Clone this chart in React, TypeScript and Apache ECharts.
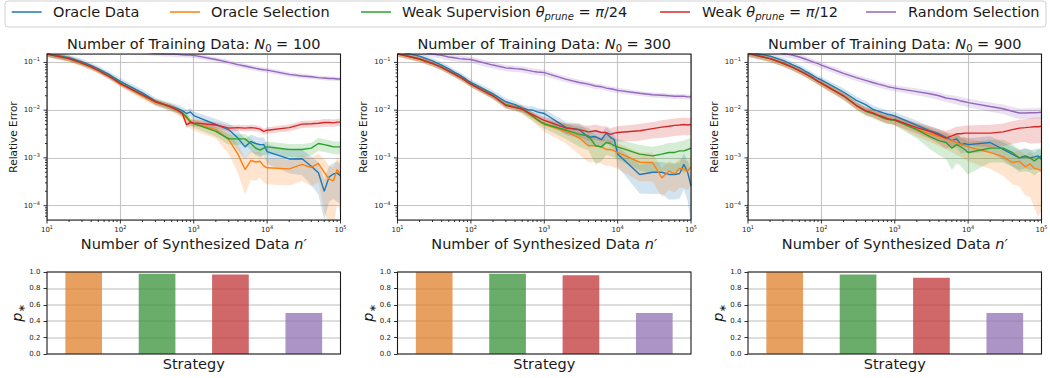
import React, { useEffect, useRef } from "react";
import * as echarts from "echarts";

// ---------------- data ----------------
const nSynth = [10, 20, 30, 40, 50, 60, 70, 80, 90, 100, 200, 300, 400, 500, 600, 700, 800, 900, 1000, 2000, 3000, 4000, 5000, 6000, 7000, 8000, 9000, 10000, 20000, 30000, 40000, 50000, 60000, 70000, 80000, 90000, 100000];

const methodNames = ["Oracle Data", "Oracle Selection", "Weak Supervision θprune = π/24", "Weak θprune = π/12", "Random Selection"];
const legendLabels = ["Oracle Data", "Oracle Selection", "Weak Supervision {i|θ}{sub|prune} = {i|π}/24", "Weak {i|θ}{sub|prune} = {i|π}/12", "Random Selection"];
const methodColors = ["#1f77b4", "#ff7f0e", "#2ca02c", "#d62728", "#9467bd"];
const trainingSizes = [100, 300, 900];

// N0 = 100
const oracleData100 = [0.152, 0.125, 0.102, 0.086, 0.073, 0.063, 0.056, 0.049, 0.044, 0.040, 0.023, 0.0155, 0.0130, 0.0118, 0.0108, 0.0098, 0.0085, 0.0092, 0.0077, 0.0050, 0.0039, 0.0026, 0.0017, 0.0022, 0.0020, 0.0019, 0.0019, 0.00135, 0.00095, 0.00096, 0.00067, 0.00049, 0.00020, 0.00040, 0.00046, 0.00048, 0.00042];
const oracleSel100 = [0.150, 0.118, 0.095, 0.080, 0.068, 0.058, 0.051, 0.045, 0.040, 0.036, 0.020, 0.0145, 0.0128, 0.0112, 0.0098, 0.0085, 0.0068, 0.0055, 0.0052, 0.0039, 0.0024, 0.0012, 0.00057, 0.00088, 0.00082, 0.00085, 0.00068, 0.00062, 0.00059, 0.00073, 0.00063, 0.00077, 0.00050, 0.00036, 0.00033, 0.00057, 0.00045];
const weak24_100 = [0.150, 0.120, 0.097, 0.081, 0.069, 0.059, 0.052, 0.046, 0.041, 0.037, 0.021, 0.0150, 0.0130, 0.0115, 0.0102, 0.0088, 0.0072, 0.0058, 0.0052, 0.0036, 0.0025, 0.0025, 0.0025, 0.0020, 0.0016, 0.00145, 0.0016, 0.0017, 0.0015, 0.0015, 0.0016, 0.0020, 0.0019, 0.0018, 0.0017, 0.0017, 0.0017];
const weak12_100 = [0.150, 0.120, 0.097, 0.081, 0.068, 0.058, 0.051, 0.045, 0.040, 0.036, 0.021, 0.0150, 0.0130, 0.0115, 0.0100, 0.0085, 0.0049, 0.0055, 0.0054, 0.0049, 0.0042, 0.0043, 0.0042, 0.0043, 0.0042, 0.0040, 0.0036, 0.0038, 0.0043, 0.0051, 0.0052, 0.0053, 0.0055, 0.0055, 0.0054, 0.0056, 0.0056];
const random100 = [0.24, 0.22, 0.21, 0.20, 0.195, 0.19, 0.185, 0.18, 0.178, 0.175, 0.165, 0.155, 0.152, 0.150, 0.148, 0.145, 0.143, 0.142, 0.140, 0.115, 0.100, 0.090, 0.084, 0.079, 0.075, 0.072, 0.070, 0.069, 0.056, 0.052, 0.050, 0.048, 0.047, 0.046, 0.046, 0.045, 0.045];

// N0 = 300
const oracleData300 = [0.17, 0.135, 0.108, 0.088, 0.073, 0.062, 0.055, 0.048, 0.042, 0.038, 0.022, 0.0150, 0.0130, 0.0110, 0.0102, 0.0100, 0.0092, 0.0088, 0.0085, 0.0043, 0.0039, 0.0027, 0.0028, 0.0024, 0.0033, 0.0027, 0.0024, 0.0012, 0.00045, 0.00050, 0.00050, 0.00045, 0.00045, 0.00047, 0.00073, 0.00050, 0.00026];
const oracleSel300 = [0.152, 0.118, 0.095, 0.079, 0.066, 0.057, 0.050, 0.044, 0.039, 0.035, 0.020, 0.0130, 0.0115, 0.0105, 0.0085, 0.0072, 0.0062, 0.0055, 0.0050, 0.0036, 0.0026, 0.0018, 0.0018, 0.0017, 0.0015, 0.0015, 0.0014, 0.0013, 0.00081, 0.00080, 0.00038, 0.00053, 0.00047, 0.00060, 0.00058, 0.00053, 0.00065];
const weak24_300 = [0.152, 0.118, 0.095, 0.079, 0.066, 0.057, 0.050, 0.044, 0.039, 0.035, 0.020, 0.0130, 0.0115, 0.0105, 0.0088, 0.0075, 0.0064, 0.0057, 0.0052, 0.0038, 0.0031, 0.0029, 0.0018, 0.0017, 0.0021, 0.0020, 0.0018, 0.0017, 0.0012, 0.0011, 0.0012, 0.0013, 0.0013, 0.0014, 0.0014, 0.0015, 0.0016];
const weak12_300 = [0.152, 0.118, 0.095, 0.079, 0.066, 0.057, 0.050, 0.044, 0.039, 0.035, 0.020, 0.0125, 0.0115, 0.0105, 0.0090, 0.0080, 0.0072, 0.0066, 0.0061, 0.0042, 0.0039, 0.0035, 0.0037, 0.0034, 0.0034, 0.0031, 0.0033, 0.0034, 0.0037, 0.0041, 0.0044, 0.0046, 0.0048, 0.0049, 0.0050, 0.0049, 0.0050];
const random300 = [0.21, 0.17, 0.150, 0.140, 0.130, 0.125, 0.120, 0.118, 0.116, 0.115, 0.088, 0.077, 0.074, 0.072, 0.068, 0.065, 0.063, 0.062, 0.061, 0.044, 0.038, 0.035, 0.032, 0.031, 0.029, 0.028, 0.027, 0.026, 0.0226, 0.021, 0.0205, 0.020, 0.0195, 0.0195, 0.0195, 0.019, 0.019];

// N0 = 900
const oracleData900 = [0.165, 0.135, 0.110, 0.090, 0.078, 0.066, 0.058, 0.051, 0.046, 0.043, 0.024, 0.016, 0.013, 0.0105, 0.0095, 0.0088, 0.0082, 0.0079, 0.0076, 0.0048, 0.0037, 0.0032, 0.0027, 0.0023, 0.0025, 0.0019, 0.0020, 0.0019, 0.0021, 0.0015, 0.0012, 0.0010, 0.0011, 0.0010, 0.00105, 0.0011, 0.00093];
const oracleSel900 = [0.155, 0.120, 0.096, 0.080, 0.067, 0.058, 0.051, 0.045, 0.040, 0.036, 0.020, 0.0125, 0.0098, 0.0088, 0.0078, 0.0068, 0.0065, 0.0063, 0.0063, 0.0040, 0.0032, 0.0028, 0.0025, 0.0023, 0.0021, 0.0019, 0.0018, 0.0017, 0.0013, 0.00105, 0.00080, 0.00085, 0.00065, 0.00075, 0.00060, 0.00058, 0.00053];
const weak24_900 = [0.155, 0.120, 0.096, 0.080, 0.067, 0.058, 0.051, 0.045, 0.040, 0.037, 0.020, 0.0125, 0.0095, 0.0085, 0.0076, 0.0068, 0.0064, 0.0062, 0.0061, 0.0039, 0.0028, 0.0023, 0.0021, 0.0016, 0.0019, 0.0017, 0.0015, 0.0013, 0.0016, 0.0016, 0.0013, 0.0010, 0.00105, 0.0010, 0.00086, 0.0010, 0.0011];
const weak12_900 = [0.155, 0.120, 0.096, 0.080, 0.067, 0.058, 0.051, 0.045, 0.040, 0.037, 0.020, 0.0125, 0.0098, 0.0088, 0.0078, 0.0072, 0.0066, 0.0064, 0.0063, 0.0043, 0.0036, 0.0030, 0.0026, 0.0029, 0.0032, 0.0032, 0.0033, 0.0033, 0.0033, 0.0035, 0.0039, 0.0042, 0.0043, 0.0044, 0.0045, 0.0045, 0.0046];
const random900 = [0.22, 0.18, 0.155, 0.142, 0.130, 0.118, 0.108, 0.100, 0.094, 0.088, 0.059, 0.048, 0.042, 0.038, 0.035, 0.033, 0.031, 0.030, 0.029, 0.0245, 0.022, 0.020, 0.018, 0.0172, 0.0165, 0.0155, 0.0150, 0.0144, 0.0119, 0.0107, 0.0095, 0.0087, 0.0087, 0.0088, 0.0088, 0.0089, 0.0090];

// relative spread (std / mean) of each curve
const spreadOD100 = [0.15, 0.15, 0.15, 0.15, 0.15, 0.15, 0.15, 0.15, 0.16, 0.17, 0.18, 0.18, 0.18, 0.2, 0.2, 0.2, 0.2, 0.2, 0.22, 0.3, 0.35, 0.45, 0.45, 0.4, 0.4, 0.4, 0.4, 0.45, 0.5, 0.55, 0.6, 0.65, 0.75, 0.7, 0.7, 0.75, 0.75];
const spreadOS100 = [0.15, 0.15, 0.15, 0.15, 0.15, 0.15, 0.15, 0.15, 0.15, 0.15, 0.16, 0.16, 0.18, 0.18, 0.2, 0.2, 0.22, 0.25, 0.28, 0.35, 0.5, 0.6, 0.7, 0.6, 0.6, 0.55, 0.55, 0.55, 0.55, 0.55, 0.6, 0.6, 0.85, 0.9, 0.9, 0.8, 0.85];
const spreadW24_100 = [0.12, 0.12, 0.12, 0.12, 0.12, 0.12, 0.12, 0.12, 0.12, 0.12, 0.13, 0.13, 0.13, 0.14, 0.14, 0.15, 0.15, 0.15, 0.18, 0.22, 0.25, 0.25, 0.25, 0.28, 0.3, 0.3, 0.3, 0.3, 0.3, 0.3, 0.3, 0.3, 0.3, 0.3, 0.3, 0.3, 0.3];
const spreadW12_100 = [0.12, 0.12, 0.12, 0.12, 0.12, 0.12, 0.12, 0.12, 0.12, 0.12, 0.12, 0.12, 0.12, 0.12, 0.13, 0.13, 0.15, 0.15, 0.15, 0.15, 0.15, 0.15, 0.15, 0.15, 0.15, 0.15, 0.15, 0.16, 0.16, 0.17, 0.17, 0.18, 0.18, 0.18, 0.18, 0.18, 0.18];
const spreadR100 = [0.12, 0.12, 0.12, 0.12, 0.12, 0.12, 0.12, 0.12, 0.12, 0.12, 0.12, 0.12, 0.12, 0.12, 0.12, 0.12, 0.12, 0.12, 0.12, 0.12, 0.12, 0.12, 0.12, 0.12, 0.12, 0.12, 0.12, 0.12, 0.11, 0.11, 0.1, 0.1, 0.1, 0.1, 0.1, 0.1, 0.1];

const spreadOD300 = [0.15, 0.15, 0.15, 0.15, 0.15, 0.15, 0.15, 0.15, 0.15, 0.15, 0.18, 0.18, 0.18, 0.18, 0.18, 0.2, 0.2, 0.22, 0.25, 0.3, 0.35, 0.35, 0.35, 0.35, 0.35, 0.35, 0.4, 0.45, 0.6, 0.65, 0.65, 0.7, 0.7, 0.7, 0.7, 0.75, 0.85];
const spreadOS300 = [0.15, 0.15, 0.15, 0.15, 0.15, 0.15, 0.15, 0.15, 0.15, 0.15, 0.16, 0.17, 0.18, 0.2, 0.2, 0.2, 0.22, 0.25, 0.3, 0.45, 0.55, 0.55, 0.55, 0.55, 0.55, 0.55, 0.55, 0.55, 0.6, 0.6, 0.6, 0.6, 0.6, 0.6, 0.6, 0.6, 0.6];
const spreadW24_300 = [0.13, 0.13, 0.13, 0.13, 0.13, 0.13, 0.13, 0.13, 0.13, 0.13, 0.14, 0.15, 0.16, 0.18, 0.2, 0.2, 0.2, 0.2, 0.2, 0.35, 0.45, 0.5, 0.6, 0.5, 0.45, 0.45, 0.45, 0.45, 0.55, 0.55, 0.55, 0.6, 0.6, 0.6, 0.65, 0.65, 0.65];
const spreadW12_300 = [0.13, 0.13, 0.13, 0.13, 0.13, 0.13, 0.13, 0.13, 0.13, 0.13, 0.13, 0.14, 0.14, 0.15, 0.15, 0.15, 0.15, 0.15, 0.18, 0.25, 0.3, 0.35, 0.35, 0.35, 0.35, 0.35, 0.35, 0.35, 0.38, 0.38, 0.4, 0.4, 0.4, 0.4, 0.4, 0.4, 0.4];
const spreadR300 = [0.15, 0.15, 0.15, 0.15, 0.15, 0.15, 0.15, 0.15, 0.15, 0.15, 0.15, 0.15, 0.15, 0.15, 0.15, 0.15, 0.15, 0.15, 0.15, 0.14, 0.14, 0.14, 0.13, 0.13, 0.13, 0.13, 0.13, 0.13, 0.12, 0.12, 0.12, 0.12, 0.12, 0.12, 0.12, 0.12, 0.12];

const spreadOD900 = [0.15, 0.15, 0.15, 0.15, 0.15, 0.15, 0.15, 0.15, 0.15, 0.15, 0.2, 0.2, 0.2, 0.2, 0.2, 0.2, 0.2, 0.2, 0.2, 0.25, 0.25, 0.25, 0.25, 0.3, 0.35, 0.35, 0.35, 0.35, 0.35, 0.4, 0.45, 0.45, 0.45, 0.45, 0.45, 0.45, 0.45];
const spreadOS900 = [0.15, 0.15, 0.15, 0.15, 0.15, 0.15, 0.15, 0.15, 0.15, 0.15, 0.18, 0.18, 0.2, 0.2, 0.2, 0.2, 0.2, 0.2, 0.22, 0.3, 0.33, 0.36, 0.4, 0.42, 0.45, 0.45, 0.48, 0.5, 0.55, 0.6, 0.65, 0.7, 0.75, 0.8, 0.85, 0.9, 0.85];
const spreadW24_900 = [0.15, 0.15, 0.15, 0.15, 0.15, 0.15, 0.15, 0.15, 0.15, 0.15, 0.18, 0.18, 0.2, 0.2, 0.2, 0.2, 0.2, 0.2, 0.22, 0.35, 0.45, 0.5, 0.55, 0.65, 0.6, 0.6, 0.65, 0.65, 0.5, 0.5, 0.5, 0.5, 0.5, 0.5, 0.5, 0.5, 0.5];
const spreadW12_900 = [0.15, 0.15, 0.15, 0.15, 0.15, 0.15, 0.15, 0.15, 0.15, 0.15, 0.15, 0.15, 0.17, 0.18, 0.2, 0.2, 0.2, 0.2, 0.22, 0.25, 0.3, 0.35, 0.4, 0.4, 0.42, 0.42, 0.45, 0.45, 0.5, 0.5, 0.5, 0.5, 0.5, 0.55, 0.55, 0.55, 0.55];
const spreadR900 = [0.15, 0.15, 0.15, 0.15, 0.15, 0.15, 0.15, 0.15, 0.15, 0.15, 0.15, 0.15, 0.15, 0.15, 0.15, 0.15, 0.15, 0.15, 0.15, 0.16, 0.17, 0.18, 0.18, 0.19, 0.2, 0.2, 0.2, 0.2, 0.22, 0.22, 0.24, 0.25, 0.25, 0.25, 0.25, 0.25, 0.25];

// bar charts: p* per strategy
const strategies = ["Oracle Selection", "Weak Supervision θprune = π/24", "Weak θprune = π/12", "Random Selection"];
const pStar100 = [1.0, 0.98, 0.97, 0.5];
const pStar300 = [1.0, 0.98, 0.96, 0.5];
const pStar900 = [1.0, 0.97, 0.93, 0.5];
const barColors = ["rgba(224,128,43,0.75)", "rgba(56,144,56,0.75)", "rgba(192,54,56,0.75)", "rgba(146,112,179,0.75)"];

// axis ticks
const xMajorTicks = [10, 100, 1000, 10000, 100000];
const yMajorTicks = [1e-4, 1e-3, 1e-2, 1e-1];
const X_MIN = 10, X_MAX = 100000, Y_MIN = 5e-5, Y_MAX = 0.15;

// ---------------- layout ----------------
const FONT = '"DejaVu Sans", sans-serif';
const PANEL_LEFT = [47, 397.5, 748];
const PANEL_W = 293.5;
const TOP_Y = 54, TOP_H = 166;
const BOT_Y = 272, BOT_H = 82;
const INK = "#1a1a1a";

const panelMeans = [
  [oracleData100, oracleSel100, weak24_100, weak12_100, random100],
  [oracleData300, oracleSel300, weak24_300, weak12_300, random300],
  [oracleData900, oracleSel900, weak24_900, weak12_900, random900],
];
const panelSpreads = [
  [spreadOD100, spreadOS100, spreadW24_100, spreadW12_100, spreadR100],
  [spreadOD300, spreadOS300, spreadW24_300, spreadW12_300, spreadR300],
  [spreadOD900, spreadOS900, spreadW24_900, spreadW12_900, spreadR900],
];
const panelPStar = [pStar100, pStar300, pStar900];

function minorTicks(lo: number, hi: number): number[] {
  const out: number[] = [];
  for (let e = -6; e <= 6; e++) {
    for (let m = 2; m <= 9; m++) {
      const v = m * Math.pow(10, e);
      if (v > lo * 1.0001 && v < hi * 0.9999) out.push(v);
    }
  }
  return out;
}

function hexToRgba(hex: string, a: number) {
  const n = parseInt(hex.slice(1), 16);
  return `rgba(${(n >> 16) & 255},${(n >> 8) & 255},${n & 255},${a})`;
}

const powLabel = (v: number) => {
  const e = Math.log10(v);
  const r = Math.round(e);
  if (Math.abs(e - r) > 1e-6) return "";
  return `{b|10}{s|${r < 0 ? "\u2212" : ""}${Math.abs(r)}}`;
};

const tickRich = {
  b: { fontSize: 7, fontFamily: FONT, color: INK, lineHeight: 10 },
  s: { fontSize: 5, fontFamily: FONT, color: INK, lineHeight: 10, padding: [0, 0, 6, 0] },
};

const bigRich = {
  i: { fontSize: 14.5, fontFamily: FONT, fontStyle: "italic", fill: INK, lineHeight: 18 },
  sub: { fontSize: 10, fontFamily: FONT, fontStyle: "italic", fill: INK, lineHeight: 18, padding: [9, 0, 0, 0] },
  sub0: { fontSize: 10, fontFamily: FONT, fill: INK, lineHeight: 18, padding: [9, 0, 0, 0] },
};

function textEl(text: string, x: number, y: number, size: number, opts: any = {}) {
  return {
    type: "text",
    x,
    y,
    rotation: opts.rotation || 0,
    z: 100,
    silent: true,
    style: {
      legacy: false,
      text,
      fill: INK,
      fontSize: size,
      fontFamily: FONT,
      lineHeight: opts.lineHeight || 18,
      align: opts.align || "center",
      verticalAlign: "middle",
      rich: opts.rich,
    },
  };
}

function buildOption() {
  const grid: any[] = [];
  const xAxis: any[] = [];
  const yAxis: any[] = [];
  const series: any[] = [];
  const graphic: any[] = [];

  // top panels
  for (let i = 0; i < 3; i++) {
    grid.push({ left: PANEL_LEFT[i], top: TOP_Y, width: PANEL_W, height: TOP_H, outerBoundsMode: "none" });
    xAxis.push({
      type: "log", logBase: 10, gridIndex: i, min: X_MIN, max: X_MAX,
      axisLine: { show: false }, axisTick: { show: false }, minorTick: { show: false },
      axisLabel: { formatter: powLabel, rich: tickRich, margin: 5, color: INK, fontFamily: FONT, fontSize: 7 },
      splitLine: { show: true, lineStyle: { color: "#c4c4c4", width: 1.1 } },
    });
    yAxis.push({
      type: "log", logBase: 10, gridIndex: i, min: Y_MIN, max: Y_MAX,
      axisLine: { show: false }, axisTick: { show: false }, minorTick: { show: false },
      axisLabel: { formatter: powLabel, rich: tickRich, margin: 7, color: INK, fontFamily: FONT, fontSize: 7 },
      splitLine: { show: true, lineStyle: { color: "#c4c4c4", width: 1.1 } },
    });
  }
  // bottom panels
  for (let i = 0; i < 3; i++) {
    grid.push({ left: PANEL_LEFT[i], top: BOT_Y, width: PANEL_W, height: BOT_H, outerBoundsMode: "none" });
    xAxis.push({
      type: "category", gridIndex: 3 + i, data: strategies,
      axisLine: { show: false }, axisTick: { show: false }, axisLabel: { show: false }, splitLine: { show: false },
    });
    yAxis.push({
      type: "value", gridIndex: 3 + i, min: 0, max: 1, interval: 0.2,
      axisLine: { show: false },
      axisTick: { show: true, length: 3.5, lineStyle: { color: INK, width: 0.9 } },
      axisLabel: { formatter: (v: number) => v.toFixed(1), fontSize: 7, margin: 6.5, color: INK, fontFamily: FONT },
      splitLine: { show: true, lineStyle: { color: "#d2d2d2", width: 1.5 } },
    });
  }

  const tickSeries = (gi: number, values: number[], axis: "x" | "y", len: number) => ({
    type: "custom", xAxisIndex: gi, yAxisIndex: gi, coordinateSystem: "cartesian2d",
    clip: false, silent: true, z: 50,
    data: values.map((v) => (axis === "x" ? [v, Y_MIN] : [X_MIN, v])),
    renderItem: (_p: any, api: any) => {
      const pt = api.coord([api.value(0), api.value(1)]);
      const shape = axis === "x"
        ? { x1: pt[0], y1: pt[1], x2: pt[0], y2: pt[1] + len }
        : { x1: pt[0] - len, y1: pt[1], x2: pt[0], y2: pt[1] };
      return { type: "line", shape, style: { stroke: INK, lineWidth: 0.9 } };
    },
  });

  for (let i = 0; i < 3; i++) {
    for (let m = 0; m < 5; m++) {
      const mean = panelMeans[i][m];
      const spread = panelSpreads[i][m];
      const color = methodColors[m];
      series.push({
        type: "custom", xAxisIndex: i, yAxisIndex: i, coordinateSystem: "cartesian2d",
        clip: true, silent: true,
        data: [[X_MIN, Y_MIN]],
        renderItem: (_p: any, api: any) => {
          const upper = nSynth.map((x, k) => api.coord([x, mean[k] * (1 + spread[k])]));
          const lower = nSynth.map((x, k) => api.coord([x, Math.max(mean[k] * (1 - spread[k]), 1e-8)])).reverse();
          return { type: "polygon", shape: { points: upper.concat(lower) }, style: { fill: hexToRgba(color, 0.2), lineWidth: 0 } };
        },
      });
      series.push({
        type: "line", name: methodNames[m], xAxisIndex: i, yAxisIndex: i,
        data: nSynth.map((x, k) => [x, mean[k]]),
        showSymbol: false, symbol: "none", clip: true, silent: true,
        lineStyle: { color, width: 1.4 }, itemStyle: { color },
      });
    }
    series.push(tickSeries(i, xMajorTicks, "x", 3.5));
    series.push(tickSeries(i, minorTicks(X_MIN, X_MAX), "x", 2));
    series.push(tickSeries(i, yMajorTicks, "y", 3.5));
    series.push(tickSeries(i, minorTicks(Y_MIN, Y_MAX), "y", 2));

    series.push({
      type: "bar", xAxisIndex: 3 + i, yAxisIndex: 3 + i, barWidth: "50%", silent: true,
      data: panelPStar[i].map((v, j) => ({ value: v, itemStyle: { color: barColors[j] } })),
    });
  }

  // legend box
  graphic.push({
    type: "rect", z: 90, silent: true,
    shape: { x: 5, y: 1, width: 1041, height: 26, r: 3 },
    style: { fill: "#ffffff", stroke: "#d0d0d0", lineWidth: 1 },
  });
  const legendLineX = [11.7, 170, 361, 660, 866];
  const legendTextX = [53, 211, 402, 702, 908];
  for (let m = 0; m < 5; m++) {
    graphic.push({
      type: "line", z: 100, silent: true,
      shape: { x1: legendLineX[m], y1: 12, x2: legendLineX[m] + 30, y2: 12 },
      style: { stroke: methodColors[m], lineWidth: 1.5 },
    });
    graphic.push(textEl(legendLabels[m], legendTextX[m], 12, 14.5, { align: "left", rich: bigRich }));
  }

  for (let i = 0; i < 3; i++) {
    const cx = PANEL_LEFT[i] + PANEL_W / 2;
    graphic.push(textEl(`Number of Training Data: {i|N}{sub0|0} = ${trainingSizes[i]}`, cx, 44, 14.5, { rich: bigRich }));
    graphic.push(textEl("Number of Synthesized Data {i|n′}", cx, 243.5, 14.5, { rich: bigRich }));
    graphic.push(textEl("Relative Error", PANEL_LEFT[i] - 34.5, TOP_Y + TOP_H / 2, 10.5, { rotation: Math.PI / 2, lineHeight: 13 }));
    graphic.push(textEl("Strategy", cx, 364, 14.5));
    graphic.push(textEl("{i|p}{sub|∗}", PANEL_LEFT[i] - 30, BOT_Y + BOT_H / 2, 14.5, { rotation: Math.PI / 2, rich: bigRich }));
    // frames
    graphic.push({
      type: "rect", z: 100, silent: true,
      shape: { x: PANEL_LEFT[i], y: TOP_Y, width: PANEL_W, height: TOP_H },
      style: { fill: "none", stroke: INK, lineWidth: 1.1 },
    });
    graphic.push({
      type: "rect", z: 100, silent: true,
      shape: { x: PANEL_LEFT[i], y: BOT_Y, width: PANEL_W, height: BOT_H },
      style: { fill: "none", stroke: INK, lineWidth: 1.1 },
    });
  }

  return {
    animation: false,
    backgroundColor: "#ffffff",
    textStyle: { fontFamily: FONT },
    grid, xAxis, yAxis, series, graphic,
  };
}

export default function App() {
  const ref = useRef<HTMLDivElement>(null);
  useEffect(() => {
    if (!ref.current) return;
    const chart = echarts.init(ref.current, null, { renderer: "svg" });
    chart.setOption(buildOption() as any);
    return () => chart.dispose();
  }, []);
  return <div ref={ref} style={{ position: "fixed", left: 0, top: 0, width: 1050, height: 378, background: "#fff" }} />;
}
